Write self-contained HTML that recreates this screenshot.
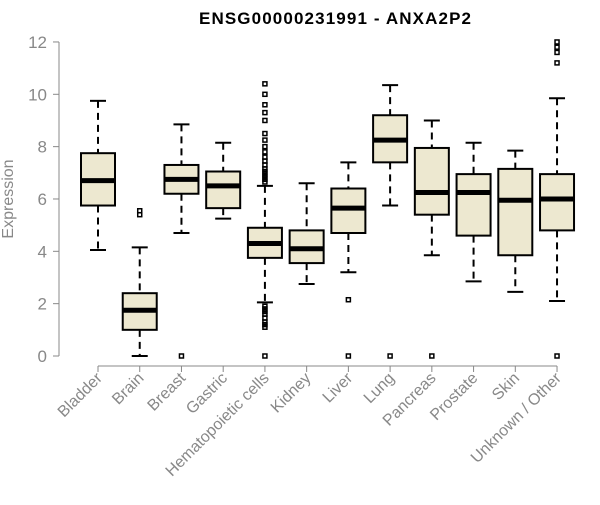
<!DOCTYPE html>
<html><head><meta charset="utf-8"><style>
body{margin:0;background:#fff;font-family:"Liberation Sans",Arial,sans-serif}
svg text{font-family:"Liberation Sans",Arial,sans-serif}
</style></head><body>
<svg id="chart" width="600" height="500" xmlns="http://www.w3.org/2000/svg">
<text x="335" y="24" text-anchor="middle" font-size="17" font-weight="bold" textLength="272" lengthAdjust="spacing">ENSG00000231991 - ANXA2P2</text>
<text transform="translate(13,199) rotate(-90)" text-anchor="middle" font-size="16" fill="#888">Expression</text>
<g id="axes"></g><g id="boxes"></g>
</svg>
<script>
const categories=["Bladder","Brain","Breast","Gastric","Hematopoietic cells","Kidney","Liver","Lung","Pancreas","Prostate","Skin","Unknown / Other"];
const whiskerLow=[4.05,0,4.7,5.25,2.05,2.75,3.2,5.75,3.85,2.85,2.45,2.1];
const q1=[5.75,1.0,6.2,5.65,3.75,3.55,4.7,7.4,5.4,4.6,3.85,4.8];
const median=[6.7,1.75,6.75,6.5,4.3,4.1,5.65,8.25,6.25,6.25,5.95,6.0];
const q3=[7.75,2.4,7.3,7.05,4.9,4.8,6.4,9.2,7.95,6.95,7.15,6.95];
const whiskerHigh=[9.75,4.15,8.85,8.15,6.5,6.6,7.4,10.35,9.0,8.15,7.85,9.85];
const outliers=[[],[5.4,5.55],[0],[],[0,1.1,1.2,1.3,1.45,1.6,1.7,1.8,1.9,6.65,6.75,6.85,6.95,7.05,7.15,7.3,7.45,7.6,7.8,8.0,8.25,8.5,9.0,9.3,9.6,10.0,10.4],[],[0,2.15],[0],[0],[],[],[0,11.2,11.6,11.8,12.0]];
const yTicks=[0,2,4,6,8,10,12];
const NS="http://www.w3.org/2000/svg";
const y=v=>356-v*26.17;
const x=i=>98+i*41.73;
function mk(tag,attrs,parent){const e=document.createElementNS(NS,tag);for(const k in attrs)e.setAttribute(k,attrs[k]);parent.appendChild(e);return e;}
const ax=document.getElementById('axes'),bx=document.getElementById('boxes');
let l=mk('line',{x1:59,x2:59,y1:y(0),y2:y(12),stroke:'#888'},ax);

yTicks.forEach(t=>{
 mk('line',{x1:53,x2:59,y1:y(t),y2:y(t),stroke:'#888'},ax);
 const tx=mk('text',{x:47,y:y(t)+6,'text-anchor':'end','font-size':17,fill:'#888'},ax);tx.textContent=t;
 
});
l=mk('line',{x1:x(0),x2:x(11),y1:366,y2:366,stroke:'#888'},ax);

categories.forEach((c,i)=>{
 const cx=x(i);
 mk('line',{x1:cx,x2:cx,y1:366,y2:372,stroke:'#888'},ax);
 const tx=mk('text',{transform:`translate(${cx+5},${379}) rotate(-45)`,'text-anchor':'end','font-size':16,fill:'#888'},ax);tx.textContent=c;
 
 const g=mk('g',{},bx);
 
 const w=17,cw=8;
 mk('line',{x1:cx,x2:cx,y1:y(whiskerHigh[i]),y2:y(q3[i]),stroke:'#000','stroke-width':2,'stroke-dasharray':'7,5'},g);
 mk('line',{x1:cx,x2:cx,y1:y(q1[i]),y2:y(whiskerLow[i]),stroke:'#000','stroke-width':2,'stroke-dasharray':'7,5'},g);
 mk('line',{x1:cx-cw,x2:cx+cw,y1:y(whiskerHigh[i]),y2:y(whiskerHigh[i]),stroke:'#000','stroke-width':2},g);
 mk('line',{x1:cx-cw,x2:cx+cw,y1:y(whiskerLow[i]),y2:y(whiskerLow[i]),stroke:'#000','stroke-width':2},g);
 mk('rect',{x:cx-w,y:y(q3[i]),width:2*w,height:y(q1[i])-y(q3[i]),fill:'#ede8d0',stroke:'#000','stroke-width':2},g);
 mk('line',{x1:cx-w,x2:cx+w,y1:y(median[i]),y2:y(median[i]),stroke:'#000','stroke-width':5},g);
 outliers[i].forEach(o=>{mk('rect',{x:cx-2,y:y(o)-2,width:4,height:4,fill:'none',stroke:'#000','stroke-width':1.5},g);});
});
</script>
</body></html>
